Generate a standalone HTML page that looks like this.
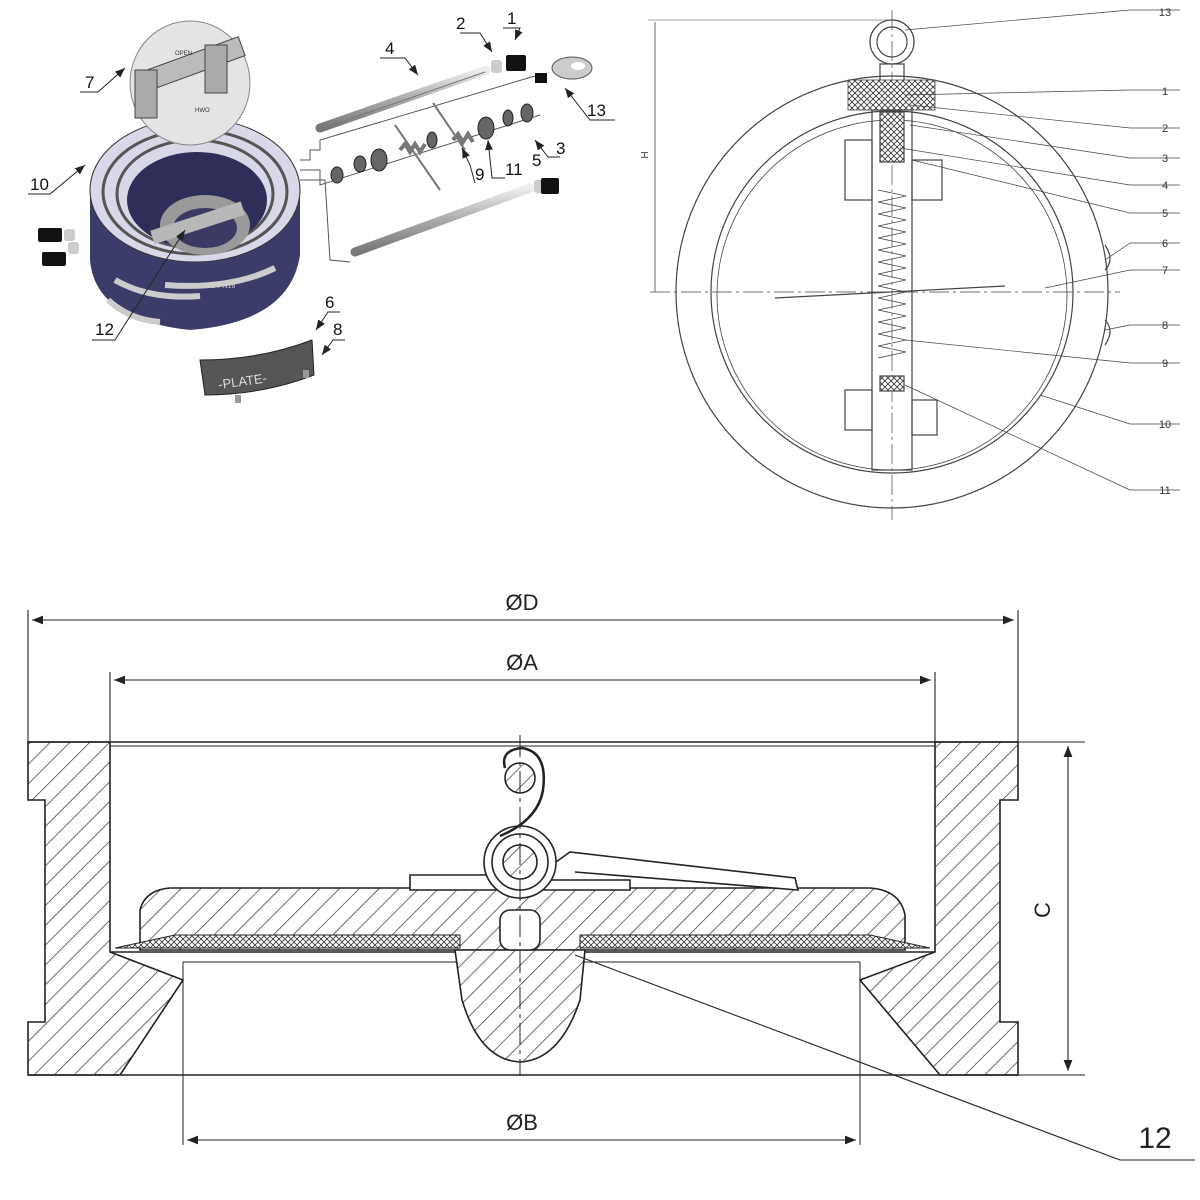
<!DOCTYPE html>
<html><head><meta charset="utf-8"><style>
html,body{margin:0;padding:0;background:#fff;}
svg{display:block;font-family:"Liberation Sans",sans-serif;}
</style></head><body>
<svg width="1200" height="1200" viewBox="0 0 1200 1200" xmlns="http://www.w3.org/2000/svg">
<defs>
<pattern id="h" patternUnits="userSpaceOnUse" width="14" height="14" patternTransform="rotate(45)">
<rect width="14" height="14" fill="#fff"/><line x1="0" y1="0" x2="0" y2="14" stroke="#333" stroke-width="1.4"/></pattern>
<pattern id="x" patternUnits="userSpaceOnUse" width="6" height="6">
<rect width="6" height="6" fill="#fff"/><path d="M0 0L6 6M6 0L0 6" stroke="#333" stroke-width="0.8"/></pattern>
<linearGradient id="rod" x1="0" y1="0" x2="0" y2="1"><stop offset="0" stop-color="#eee"/><stop offset="0.5" stop-color="#aaa"/><stop offset="1" stop-color="#777"/></linearGradient>
<marker id="ar" markerWidth="10" markerHeight="8" refX="10" refY="4" orient="auto"><path d="M0 0L10 4L0 8z" fill="#222"/></marker>
<marker id="al" markerWidth="10" markerHeight="8" refX="0" refY="4" orient="auto"><path d="M10 0L0 4L10 8z" fill="#222"/></marker>
</defs>

<!-- ===== TOP LEFT EXPLODED VIEW ===== -->
<g>
<!-- body -->
<path d="M90 190 L90 260 Q95 320 190 330 Q290 322 300 255 L300 190 Z" fill="#3c3c6a"/>
<ellipse cx="195" cy="190" rx="105" ry="72" fill="#d8d8e8" stroke="#333"/>
<ellipse cx="195" cy="192" rx="92" ry="62" fill="none" stroke="#555" stroke-width="3"/>
<ellipse cx="195" cy="194" rx="78" ry="54" fill="none" stroke="#555" stroke-width="3"/>
<ellipse cx="197" cy="200" rx="70" ry="48" fill="#2e2e58"/>
<ellipse cx="205" cy="225" rx="45" ry="30" fill="#9a9a9a"/>
<ellipse cx="205" cy="228" rx="32" ry="20" fill="#3a3a64"/>
<rect x="150" y="215" width="95" height="14" fill="#b8b8b8" transform="rotate(-18 200 222)"/>
<path d="M115 280 Q150 300 200 296" stroke="#ccc" stroke-width="6" fill="none"/>
<path d="M165 285 Q230 290 275 268" stroke="#ccc" stroke-width="6" fill="none"/>
<path d="M108 300 Q130 320 160 322" stroke="#ccc" stroke-width="6" fill="none"/>
<text x="205" y="288" font-size="7" fill="#ccc">GG PN16</text>
<!-- disc -->
<ellipse cx="190" cy="83" rx="60" ry="62" fill="#e4e4e4" stroke="#888"/>
<rect x="135" y="55" width="110" height="20" fill="#bbb" stroke="#444" transform="rotate(-20 190 65)"/>
<rect x="135" y="70" width="22" height="48" fill="#aaa" stroke="#444"/>
<rect x="205" y="45" width="22" height="48" fill="#aaa" stroke="#444"/>
<text x="175" y="55" font-size="6" fill="#333">OPEN</text>
<text x="195" y="112" font-size="6" fill="#333">HWO</text>
<!-- side screws -->
<rect x="38" y="228" width="24" height="14" fill="#111" rx="2"/><rect x="64" y="229" width="11" height="12" fill="#ccc" rx="3"/>
<rect x="42" y="252" width="24" height="14" fill="#111" rx="2"/><rect x="68" y="242" width="11" height="12" fill="#ccc" rx="3"/>
<!-- rods -->
<line x1="320" y1="128" x2="486" y2="70" stroke="url(#rod)" stroke-width="9" stroke-linecap="round"/>
<line x1="355" y1="252" x2="530" y2="188" stroke="url(#rod)" stroke-width="9" stroke-linecap="round"/>
<line x1="318" y1="130" x2="485" y2="72" stroke="#777" stroke-width="1"/>
<rect x="491" y="60" width="11" height="13" fill="#ccc" rx="3"/><rect x="506" y="55" width="20" height="16" fill="#111" rx="2"/>
<rect x="534" y="180" width="10" height="13" fill="#ccc" rx="3"/><rect x="541" y="178" width="18" height="16" fill="#111" rx="2"/>
<!-- eyebolt -->
<rect x="535" y="73" width="12" height="10" fill="#111"/>
<ellipse cx="572" cy="68" rx="20" ry="11" fill="#ccc" stroke="#555"/><ellipse cx="578" cy="66" rx="7" ry="4" fill="#fff"/>
<!-- shaft line parts -->
<path d="M300 160 L310 160 L310 150 L320 150 L320 140 L535 76" stroke="#555" fill="none"/>
<path d="M300 170 L320 170 L320 185 L540 115" stroke="#555" fill="none"/>
<path d="M300 180 L325 180 L330 260 L350 262" stroke="#555" fill="none"/>
<g fill="#666" stroke="#222">
<ellipse cx="337" cy="175" rx="6" ry="8"/><ellipse cx="360" cy="164" rx="6" ry="8"/><ellipse cx="379" cy="160" rx="8" ry="11"/>
<ellipse cx="432" cy="140" rx="5" ry="8"/><ellipse cx="486" cy="128" rx="8" ry="11"/><ellipse cx="508" cy="118" rx="5" ry="8"/><ellipse cx="527" cy="113" rx="6" ry="9"/>
</g>
<path d="M400 150 l5 -6 l5 8 l5 -8 l5 8 l5 -8" stroke="#777" fill="none" stroke-width="4"/>
<path d="M453 140 l5 -6 l5 8 l5 -8 l5 8" stroke="#777" fill="none" stroke-width="4"/>
<line x1="395" y1="125" x2="440" y2="190" stroke="#777" stroke-width="2"/>
<line x1="433" y1="103" x2="465" y2="150" stroke="#777" stroke-width="2"/>
<!-- plate -->
<path d="M200 360 Q260 360 312 340 L314 375 Q262 395 205 395 Z" fill="#555" stroke="#222"/>
<text x="218" y="384" font-size="13" fill="#ddd" transform="rotate(-8 255 380)">-PLATE-</text>
<path d="M235 395 l6 0 l0 8 l-6 0z M303 370 l6 0 l0 8 l-6 0z" fill="#999"/>
<!-- labels -->
<g font-size="17" fill="#111">
<text x="507" y="24">1</text><text x="456" y="29">2</text><text x="385" y="54">4</text>
<text x="85" y="88">7</text><text x="587" y="116">13</text><text x="556" y="154">3</text><text x="532" y="166">5</text>
<text x="505" y="175">11</text><text x="475" y="180">9</text><text x="30" y="190">10</text><text x="95" y="335">12</text>
<text x="325" y="308">6</text><text x="333" y="335">8</text>
</g>
<g stroke="#222" fill="none">
<path d="M460 33 L480 33 L492 52" marker-end="url(#ar)"/><path d="M503 28 L520 28 L515 40" marker-end="url(#ar)"/>
<path d="M380 58 L405 58 L418 75" marker-end="url(#ar)"/><path d="M80 92 L98 92 L125 68" marker-end="url(#ar)"/>
<path d="M615 120 L590 120 L565 88" marker-end="url(#ar)"/><path d="M560 157 L548 157 L535 140" marker-end="url(#ar)"/>
<path d="M28 194 L50 194 L85 165" marker-end="url(#ar)"/><path d="M92 340 L115 340 L185 230" marker-end="url(#ar)"/>
<path d="M505 178 L492 178 L488 140" marker-end="url(#ar)"/><path d="M475 183 L470 165 L462 148" marker-end="url(#ar)"/>
<path d="M340 312 L328 312 L316 330" marker-end="url(#ar)"/><path d="M345 340 L333 340 L322 355" marker-end="url(#ar)"/>
</g>
</g>

<!-- ===== TOP RIGHT FRONT VIEW ===== -->
<g stroke="#444" fill="none" stroke-width="1.2">
<circle cx="892" cy="292" r="216"/>
<circle cx="892" cy="292" r="181"/>
<circle cx="892" cy="295" r="175" stroke-width="0.8"/>
<line x1="892" y1="10" x2="892" y2="520" stroke-dasharray="20 4 3 4" stroke-width="0.7"/>
<line x1="650" y1="292" x2="1120" y2="292" stroke-dasharray="20 4 3 4" stroke-width="0.7"/>
<circle cx="892" cy="42" r="22"/><circle cx="892" cy="42" r="15"/>
<rect x="880" y="64" width="24" height="20"/>
<path d="M848 80 L935 80 L935 110 L848 110 Z" fill="url(#x)" stroke-width="0.8"/>
<rect x="872" y="110" width="40" height="360"/>
<rect x="880" y="112" width="24" height="50" fill="url(#x)"/>
<rect x="880" y="376" width="24" height="15" fill="url(#x)"/>
<path d="M878 190 l28 6 l-28 6 l28 6 l-28 6 l28 6 l-28 6 l28 6 l-28 6 l28 6 l-28 6 l28 6 l-28 6 l28 6 l-28 6 l28 6 l-28 6 l28 6 l-28 6 l28 6 l-28 6 l28 6 l-28 6 l28 6 l-28 6 l28 6 l-28 6 l28 6 l-28 6" stroke-width="0.8"/>
<line x1="775" y1="298" x2="1005" y2="286"/>
<rect x="845" y="140" width="27" height="60"/><rect x="912" y="160" width="30" height="40"/>
<rect x="845" y="390" width="27" height="40"/><rect x="912" y="400" width="25" height="35"/>
<path d="M1105 245 Q1115 260 1105 270 M1105 320 Q1115 330 1105 345"/>
<line x1="655" y1="22" x2="655" y2="292" stroke-width="0.8"/>
<line x1="648" y1="20" x2="890" y2="20" stroke-width="0.6"/>
<!-- leaders -->
<g stroke-width="0.7">
<path d="M905 30 L1130 10 L1180 10"/><path d="M905 95 L1130 90 L1180 90"/><path d="M910 105 L1130 128 L1180 128"/>
<path d="M910 125 L1130 158 L1180 158"/><path d="M900 148 L1130 185 L1180 185"/><path d="M912 160 L1130 213 L1180 213"/>
<path d="M1105 260 L1130 243 L1180 243"/><path d="M1045 288 L1130 270 L1180 270"/><path d="M1105 330 L1130 325 L1180 325"/>
<path d="M905 340 L1130 363 L1180 363"/><path d="M1040 395 L1130 424 L1180 424"/><path d="M905 385 L1130 490 L1180 490"/>
</g>
</g>
<g font-size="11" fill="#333" text-anchor="middle">
<text x="1165" y="16">13</text><text x="1165" y="95">1</text><text x="1165" y="132">2</text><text x="1165" y="162">3</text>
<text x="1165" y="189">4</text><text x="1165" y="217">5</text><text x="1165" y="247">6</text><text x="1165" y="274">7</text>
<text x="1165" y="329">8</text><text x="1165" y="367">9</text><text x="1165" y="428">10</text><text x="1165" y="494">11</text>
<text x="648" y="155" font-size="10" transform="rotate(-90 648 155)">H</text>
</g>

<!-- ===== BOTTOM SECTION ===== -->
<g stroke="#222" stroke-width="1.6">
<path d="M28 742 L110 742 L110 952 L183 980 L120 1075 L28 1075 L28 1022 L45 1022 L45 800 L28 800 Z" fill="url(#h)"/>
<path d="M1018 742 L935 742 L935 952 L860 980 L940 1075 L1018 1075 L1018 1022 L1000 1022 L1000 800 L1018 800 Z" fill="url(#h)"/>
<line x1="28" y1="742" x2="1018" y2="742"/><line x1="110" y1="746" x2="935" y2="746" stroke-width="1"/>
<line x1="110" y1="952" x2="935" y2="952"/>
<line x1="183" y1="962" x2="860" y2="962" stroke-width="1"/>
<line x1="183" y1="962" x2="183" y2="1145" stroke-width="1"/><line x1="860" y1="962" x2="860" y2="1145" stroke-width="1"/>
<line x1="28" y1="1075" x2="1018" y2="1075"/>
<path d="M140 950 L140 910 Q145 890 170 888 L870 888 Q900 890 905 915 L905 950 Z" fill="url(#h)"/>
<path d="M115 948 L175 935 L460 935 L460 948 Z M580 948 L580 935 L870 935 L930 948 Z" fill="url(#x)" stroke-width="1"/>
<path d="M455 950 L585 950 L580 1000 Q560 1060 520 1062 Q480 1060 462 1000 Z" fill="url(#h)"/>
<rect x="500" y="910" width="40" height="40" rx="10" fill="#fff"/>
<path d="M410 875 L410 890 L500 890 L500 875 Z M540 880 L630 880 L630 890 L540 890 Z" fill="#fff"/>
<circle cx="520" cy="862" r="36" fill="#fff"/><circle cx="520" cy="862" r="28" fill="none"/>
<circle cx="520" cy="862" r="17" fill="url(#h)"/>
<circle cx="520" cy="778" r="15" fill="url(#h)"/>
<path d="M505 768 Q500 750 522 748 Q548 752 543 790 Q538 820 500 836" fill="none" stroke-width="2.5"/>
<path d="M556 862 L570 852 L795 878 L798 890 L575 872" fill="#fff"/>
<line x1="520" y1="735" x2="520" y2="1075" stroke-dasharray="22 5 4 5" stroke-width="1"/>
</g>
<g stroke="#222" stroke-width="1.1" fill="none">
<line x1="28" y1="610" x2="28" y2="742"/><line x1="1018" y1="610" x2="1018" y2="742"/>
<line x1="32" y1="620" x2="1014" y2="620" marker-start="url(#al)" marker-end="url(#ar)"/>
<line x1="110" y1="672" x2="110" y2="742"/><line x1="935" y1="672" x2="935" y2="742"/>
<line x1="114" y1="680" x2="931" y2="680" marker-start="url(#al)" marker-end="url(#ar)"/>
<line x1="187" y1="1140" x2="856" y2="1140" marker-start="url(#al)" marker-end="url(#ar)"/>
<line x1="1018" y1="742" x2="1085" y2="742"/><line x1="1018" y1="1075" x2="1085" y2="1075"/>
<line x1="1068" y1="746" x2="1068" y2="1071" marker-start="url(#al)" marker-end="url(#ar)"/>
<path d="M575 955 L1120 1160 L1195 1160"/>
</g>
<g font-size="22" fill="#222" text-anchor="middle">
<text x="522" y="610">ØD</text><text x="522" y="670">ØA</text><text x="522" y="1130">ØB</text>
<text x="1045" y="915" transform="rotate(-90 1045 910)">C</text>
<text x="1155" y="1148" font-size="30">12</text>
</g>
</svg>
</body></html>
